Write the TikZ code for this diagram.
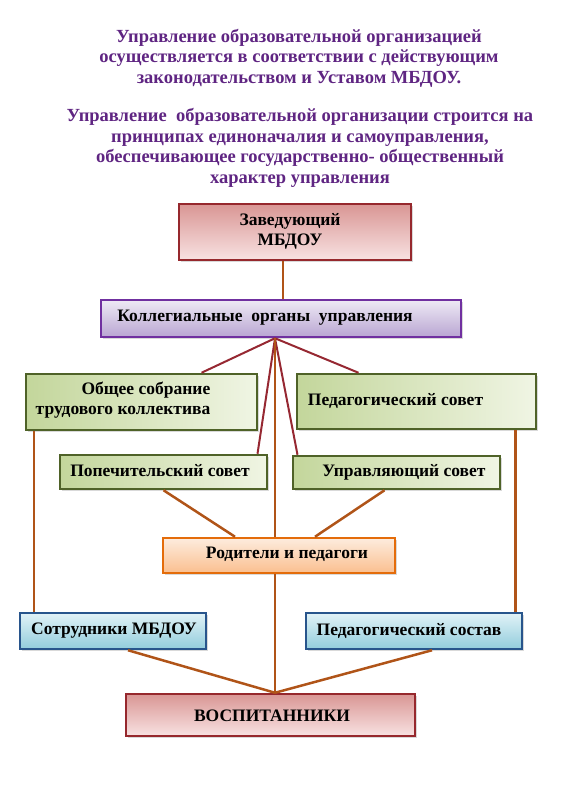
\documentclass[tikz,border=0pt]{standalone}
\usepackage{fontspec}
\setmainfont{Liberation Serif}
\usetikzlibrary{shadows}

\definecolor{titlepurple}{RGB}{95,37,130}
\definecolor{redline}{RGB}{150,40,50}
\definecolor{brownline}{RGB}{176,84,24}
\definecolor{rosedark}{RGB}{217,150,148}
\definecolor{roselight}{RGB}{248,226,226}
\definecolor{roseborder}{RGB}{150,40,45}
\definecolor{lilacdark}{RGB}{185,165,210}
\definecolor{lilaclight}{RGB}{238,234,245}
\definecolor{lilacborder}{RGB}{112,48,160}
\definecolor{greendark}{RGB}{195,214,155}
\definecolor{greenlight}{RGB}{240,245,228}
\definecolor{greenborder}{RGB}{79,98,40}
\definecolor{orangedark}{RGB}{250,191,143}
\definecolor{orangelight}{RGB}{253,236,222}
\definecolor{orangeborder}{RGB}{228,108,10}
\definecolor{bluedark}{RGB}{146,205,220}
\definecolor{bluelight}{RGB}{225,242,247}
\definecolor{blueborder}{RGB}{40,85,140}

\tikzset{
  box/.style = {draw, line width = 2.5pt, inner sep = 0pt,
    drop shadow = {opacity = 0.3, shadow xshift = 1.5pt, shadow yshift = -1.5pt}},
  rosebox/.style = {box, draw = roseborder, top color = rosedark, bottom color = roselight},
  lilacbox/.style = {box, draw = lilacborder, top color = lilaclight, bottom color = lilacdark},
  greenbox/.style = {box, draw = greenborder, left color = greendark, right color = greenlight},
  orangebox/.style = {box, draw = orangeborder, top color = orangelight, bottom color = orangedark},
  bluebox/.style = {box, draw = blueborder, top color = bluelight, bottom color = bluedark},
  lbl/.style = {font = \bfseries\fontsize{17.5}{20}\selectfont, align = center, inner sep = 0pt},
  heading/.style = {font = \bfseries\fontsize{18.5}{20.5}\selectfont, text = titlepurple,
    align = center, inner sep = 0pt},
  redlink/.style = {draw = redline, line width = 2pt},
  brownlink/.style = {draw = brownline, line width = 2.5pt}
}

\begin{document}
\begin{tikzpicture}[x = 1pt, y = -1pt]
  \useasboundingbox (0, 0) rectangle (563, 800);
  % heading
  \node[heading] (head1) at (299, 58) {Управление образовательной организацией\\
    осуществляется в соответствии с действующим\\
    законодательством и Уставом МБДОУ.};
  \node[heading] (head2) at (300, 148) {Управление~ образовательной организации строится на\\
    принципах единоначалия и самоуправления,\\
    обеспечивающее государственно- общественный\\
    характер управления};
  % boxes
  \node[rosebox, minimum width = 232pt, minimum height = 56pt] (zav) at (295, 232) {};
  \node[lbl] (zav-t) at (290, 231) {Заведующий\\ МБДОУ};
  \node[lilacbox, minimum width = 360pt, minimum height = 37pt] (kol) at (281, 318.5) {};
  \node[lbl] (kol-t) at (265, 318) {Коллегиальные~ органы~ управления};
  \node[greenbox, minimum width = 231pt, minimum height = 56pt] (obsch) at (141.5, 402) {};
  \node[lbl, align = right] (obsch-t) at (123, 400) {Общее собрание\\ трудового коллектива};
  \node[greenbox, minimum width = 239pt, minimum height = 55pt] (pedsov) at (416.5, 401.5) {};
  \node[lbl] (pedsov-t) at (395.5, 401) {Педагогический совет};
  \node[greenbox, minimum width = 207pt, minimum height = 34pt] (pop) at (163.5, 472) {};
  \node[lbl] (pop-t) at (160, 471) {Попечительский совет};
  \node[greenbox, minimum width = 207pt, minimum height = 33pt] (upr) at (396.5, 472.5) {};
  \node[lbl] (upr-t) at (404, 472) {Управляющий совет};
  \node[orangebox, minimum width = 232pt, minimum height = 35pt] (rod) at (279, 555.5) {};
  \node[lbl] (rod-t) at (287, 554) {Родители и педагоги};
  \node[bluebox, minimum width = 186pt, minimum height = 36pt] (sotr) at (113, 631) {};
  \node[lbl] (sotr-t) at (114, 631) {Сотрудники МБДОУ};
  \node[bluebox, minimum width = 216pt, minimum height = 36pt] (pedsost) at (414, 631) {};
  \node[lbl] (pedsost-t) at (409, 631) {Педагогический состав};
  \node[rosebox, minimum width = 289pt, minimum height = 42pt] (vosp) at (270.5, 715) {};
  \node[lbl] (vosp-t) at (272, 716) {ВОСПИТАННИКИ};
  % links
  \coordinate (hub) at ([xshift = -6pt]kol.south);
  \coordinate (low) at ([xshift = 4.5pt]vosp.north);
  \draw[brownlink] ([xshift = -12pt]zav.south) -- ([xshift = -12pt]zav.south |- kol.north);
  \draw[redlink] (hub) -- ([xshift = 60pt]obsch.north);
  \draw[redlink] (hub) -- ([xshift = -58pt]pedsov.north);
  \draw[redlink] (hub) -- ([xshift = 94pt]pop.north);
  \draw[redlink] (hub) -- ([xshift = -99pt]upr.north);
  \draw[brownlink] (hub) -- (hub |- rod.north);
  \draw[brownlink] (low |- rod.south) -- (low);
  \draw[brownlink] (pop.south) -- ([xshift = -44pt]rod.north);
  \draw[brownlink] ([xshift = -12pt]upr.south) -- ([xshift = 36pt]rod.north);
  \draw[brownlink] ([xshift = 9pt]obsch.south west) -- ([xshift = 9pt]obsch.south west |- sotr.north);
  \draw[brownlink] ([xshift = -22pt]pedsov.south east) -- ([xshift = -22pt]pedsov.south east |- pedsost.north);
  \draw[brownlink] ([xshift = 15pt]sotr.south) -- (low);
  \draw[brownlink] ([xshift = 18pt]pedsost.south) -- (low);
\end{tikzpicture}
\end{document}
